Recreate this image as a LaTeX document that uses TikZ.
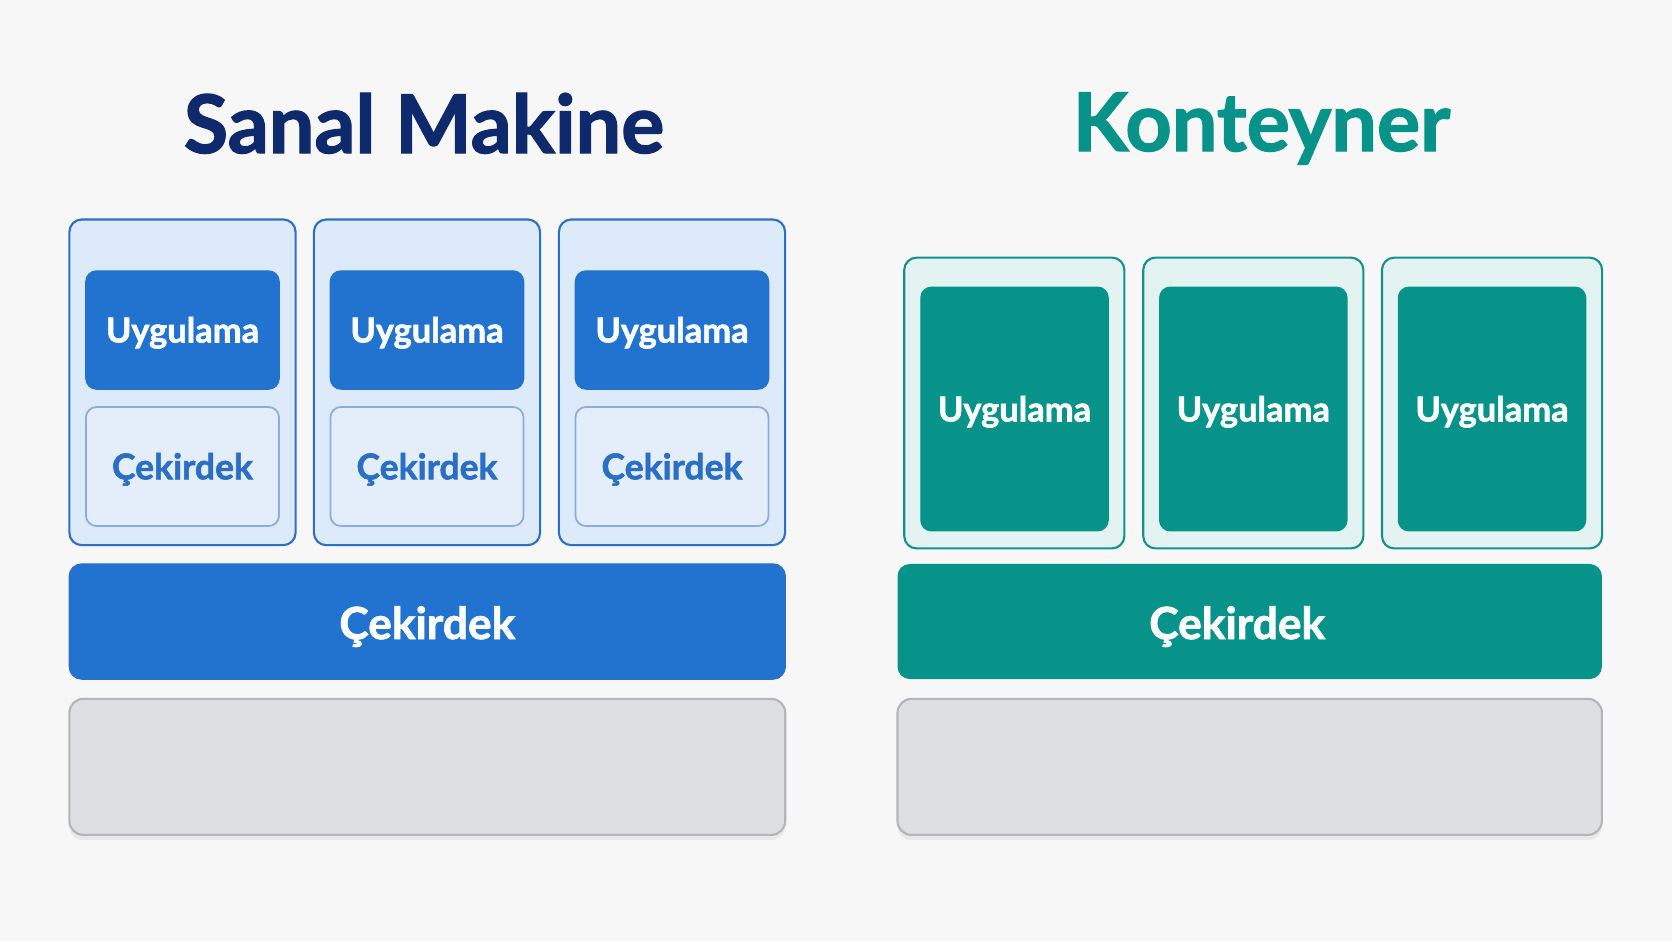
\documentclass[tikz,border=0pt]{standalone}
\usepackage{fontspec}
\setmainfont{Lato}[BoldFeatures={FakeBold=1.6}]
\usetikzlibrary{positioning, shadows}

\definecolor{pagebg}{HTML}{F7F7F7}
\definecolor{vmnavy}{HTML}{0F2A6C}
\definecolor{vmblue}{HTML}{2273CF}
\definecolor{vmline}{HTML}{2C6FC6}
\definecolor{vmpale}{HTML}{DDEAF9}
\definecolor{kerpale}{HTML}{E4EEFA}
\definecolor{kerline}{HTML}{88AEDF}
\definecolor{kertext}{HTML}{2A6FC4}
\definecolor{ctteal}{HTML}{07938A}
\definecolor{ctline}{HTML}{14918A}
\definecolor{ctpale}{HTML}{E3F3F2}
\definecolor{hwgray}{HTML}{DEDFE2}
\definecolor{hwline}{HTML}{B4B5B9}

\begin{document}
\begin{tikzpicture}[x=0.01cm, y=-0.01cm,
  title/.style={anchor=base, font=\fontsize{23}{27}\selectfont\bfseries},
  vmbox/.style={draw=vmline, fill=vmpale, line width=0.6pt, rounded corners=3.5pt,
    minimum width=2.26cm, minimum height=3.255cm, inner sep=0pt},
  appbox/.style={draw=vmblue, fill=vmblue, text=white, rounded corners=3pt,
    minimum width=1.93cm, minimum height=1.18cm, inner sep=0pt,
    font=\fontsize{9.8}{12}\selectfont\bfseries, text height=7.1pt, text depth=0pt},
  kerbox/.style={draw=kerline, fill=kerpale, text=kertext, line width=0.5pt, rounded corners=3pt,
    minimum width=1.93cm, minimum height=1.19cm, inner sep=0pt,
    font=\fontsize{10.1}{12}\selectfont\bfseries, text height=7.3pt, text depth=0pt},
  ctbox/.style={draw=ctline, fill=ctpale, line width=0.6pt, rounded corners=3.5pt,
    minimum width=2.2cm, minimum height=2.906cm, inner sep=0pt},
  ctapp/.style={draw=ctteal, fill=ctteal, text=white, rounded corners=3pt,
    minimum width=1.87cm, minimum height=2.434cm, inner sep=0pt,
    font=\fontsize{9.8}{12}\selectfont\bfseries, text height=7.1pt, text depth=0pt},
  kernel/.style={rounded corners=3.5pt, text=white, inner sep=0pt,
    minimum height=1.15cm, font=\fontsize{12.6}{15}\selectfont\bfseries,
    text height=10pt, text depth=0pt},
  hw/.style={draw=hwline, fill=hwgray, line width=0.6pt, rounded corners=4pt,
    minimum height=1.36cm, inner sep=0pt,
    drop shadow={opacity=0.12, shadow xshift=0pt, shadow yshift=-1.5pt}}]

\fill[pagebg] (0,0) rectangle (1672,941);

% sanal makine
\node[title, text=vmnavy] (vmtitle) at (424,153) {Sanal Makine};

\node[vmbox] (vm1) at (182.5,382.3) {};
\node[vmbox] (vm2) at (427,382.3) {};
\node[vmbox] (vm3) at (672,382.3) {};

\node[appbox] (app1) at (182.5,330) {Uygulama};
\node[appbox] (app2) at (427,330) {Uygulama};
\node[appbox] (app3) at (672,330) {Uygulama};

\node[kerbox] (ker1) at (182.5,466.5) {Çekirdek};
\node[kerbox] (ker2) at (427,466.5) {Çekirdek};
\node[kerbox] (ker3) at (672,466.5) {Çekirdek};

\node[kernel, draw=vmline, fill=vmblue, minimum width=7.155cm] (vmkernel) at (427.3,621.5) {Çekirdek};
\node[hw, minimum width=7.155cm, below=0.18cm of vmkernel] (vmhw) {};

% konteyner
\node[title, text=ctteal] (cttitle) at (1261.5,151) {Konteyner};

\node[ctbox] (ct1) at (1014.3,403) {};
\node[ctbox] (ct2) at (1253.3,403) {};
\node[ctbox] (ct3) at (1492,403) {};

\node[ctapp] (ctapp1) at (1014.5,409) {Uygulama};
\node[ctapp] (ctapp2) at (1253.3,409) {Uygulama};
\node[ctapp] (ctapp3) at (1492,409) {Uygulama};

\node[kernel, fill=ctteal, minimum width=7.04cm] (ctkernel) at (1249.7,621.5) {\hspace*{-0.25cm}Çekirdek};
\node[hw, minimum width=7.04cm, below=0.18cm of ctkernel] (cthw) {};
\end{tikzpicture}
\end{document}
